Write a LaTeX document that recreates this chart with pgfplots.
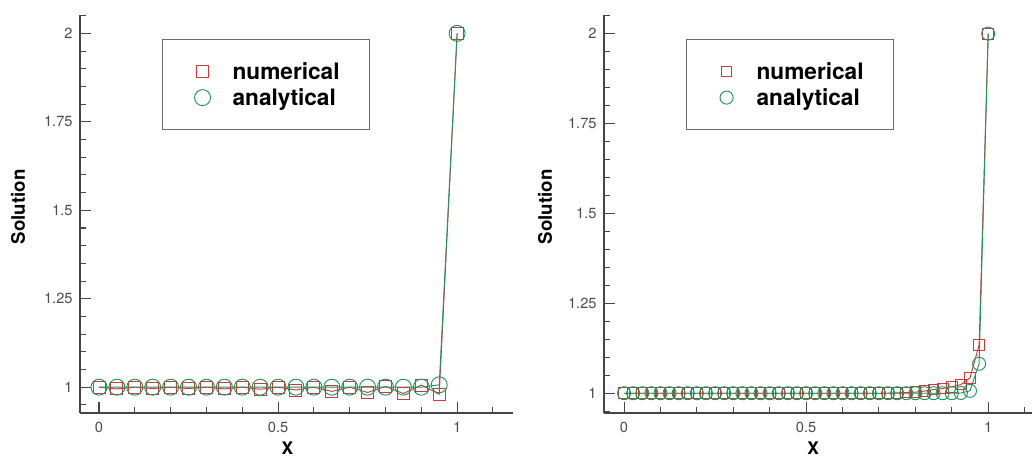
\documentclass[border=0pt]{standalone}
\usepackage{fontspec}
\setmainfont{TeX Gyre Heros}
\usepackage{pgfplots}
\pgfplotsset{compat=1.18}

\definecolor{numred}{RGB}{200,60,60}
\definecolor{anagreen}{RGB}{30,150,90}
\definecolor{axgray}{RGB}{70,70,70}

\pgfplotsset{
  solplot/.style={
    scale only axis, width=324.75pt, height=298.5pt,
    axis lines=left, axis line style={-, axgray, line width=0.9pt},
    tick align=inside, major tick length=8pt, minor tick length=4.5pt,
    every tick/.style={axgray, line width=0.8pt},
    xtick={0,0.5,1}, xticklabels={0,0.5,1},
    minor xtick={0.1,0.2,0.3,0.4,0.6,0.7,0.8,0.9,1.1},
    ytick={1,1.25,1.5,1.75,2}, yticklabels={1,1.25,1.5,1.75,2},
    minor ytick={0.95,1.05,1.1,1.15,1.2,1.3,1.35,1.4,1.45,1.55,1.6,1.65,1.7,1.8,1.85,1.9,1.95,2.05},
    ticklabel style={font=\fontsize{11}{13}\selectfont, text=black!70},
    xticklabel style={yshift=-3pt},
    yticklabel style={xshift=-2pt},
    xlabel={X}, ylabel={Solution},
    xlabel style={font=\bfseries\fontsize{13}{15}\selectfont, anchor=center},
    ylabel style={font=\bfseries\fontsize{14}{16}\selectfont, anchor=center},
    legend cell align=left,
    legend image code/.code={%
      \path[draw=none, fill=none] (-9.5pt,-9.75pt) rectangle (20.5pt,9.75pt);
      \draw[##1] plot coordinates {(0pt,0pt)};},
    legend style={at={(axis description cs:0.189,0.940)}, anchor=north west,
      draw=axgray!80, line width=1.1pt, inner xsep=20.5pt, inner ysep=14.25pt,
      font=\bfseries\fontsize{17}{20}\selectfont},
    clip=false,
  },
  numstyle/.style={numred, line width=0.7pt, mark=square, mark size=#1, mark options={solid}},
  anastyle/.style={anagreen, line width=0.7pt, mark=o, mark size=#1, mark options={solid}},
}

\begin{document}
\begin{tikzpicture}
\path[use as bounding box] (0,0) rectangle (774pt,345pt);

\begin{axis}[solplot, at={(60pt,35.25pt)}, anchor=south west,
    xmin=-0.053, xmax=1.156, ymin=0.927, ymax=2.052,
    xlabel style={at={(axis description cs:0.479,-0.088)}},
    ylabel style={at={(axis description cs:-0.143,0.518)}}]
\addplot[numstyle=4.5pt] coordinates {
 (0,1) (0.05,0.995) (0.1,1) (0.15,0.996) (0.2,1) (0.25,0.996) (0.3,1)
 (0.35,0.995) (0.4,1) (0.45,0.994) (0.5,1) (0.55,0.992) (0.6,1) (0.65,0.988)
 (0.7,1) (0.75,0.985) (0.8,1.002) (0.85,0.982) (0.9,1.006) (0.95,0.98) (1,2)};
\addplot[anastyle=6pt] coordinates {
 (0,1) (0.05,1) (0.1,1) (0.15,1) (0.2,1) (0.25,1) (0.3,1)
 (0.35,1) (0.4,1) (0.45,1) (0.5,1) (0.55,1) (0.6,1) (0.65,1)
 (0.7,1) (0.75,1) (0.8,1) (0.85,1) (0.9,1) (0.95,1.0067) (1,2)};
\legend{numerical, analytical}
\end{axis}

\begin{axis}[solplot, at={(453pt,35.25pt)}, anchor=south west,
    xmin=-0.055, xmax=1.134, ymin=0.945, ymax=2.052,
    xlabel style={at={(axis description cs:0.483,-0.088)}},
    ylabel style={at={(axis description cs:-0.136,0.518)}}]
\addplot[numstyle=4pt] coordinates {
 (0,1) (0.025,1) (0.05,1) (0.075,1) (0.1,1) (0.125,1) (0.15,1) (0.175,1)
 (0.2,1) (0.225,1) (0.25,1) (0.275,1) (0.3,1) (0.325,1) (0.35,1) (0.375,1)
 (0.4,1) (0.425,1) (0.45,1) (0.475,1) (0.5,1) (0.525,1) (0.55,1) (0.575,1)
 (0.6,1) (0.625,1) (0.65,1) (0.675,1) (0.7,1) (0.725,1) (0.75,1.001) (0.775,1.002)
 (0.8,1.003) (0.825,1.006) (0.85,1.01) (0.875,1.013) (0.9,1.018) (0.925,1.024)
 (0.95,1.043) (0.975,1.134) (1,2)};
\addplot[anastyle=4.9pt] coordinates {
 (0,1) (0.025,1) (0.05,1) (0.075,1) (0.1,1) (0.125,1) (0.15,1) (0.175,1)
 (0.2,1) (0.225,1) (0.25,1) (0.275,1) (0.3,1) (0.325,1) (0.35,1) (0.375,1)
 (0.4,1) (0.425,1) (0.45,1) (0.475,1) (0.5,1) (0.525,1) (0.55,1) (0.575,1)
 (0.6,1) (0.625,1) (0.65,1) (0.675,1) (0.7,1) (0.725,1) (0.75,1) (0.775,1)
 (0.8,1) (0.825,1) (0.85,1) (0.875,1) (0.9,1) (0.925,1.0006)
 (0.95,1.0067) (0.975,1.082) (1,2)};
\legend{numerical, analytical}
\end{axis}
\end{tikzpicture}
\end{document}
